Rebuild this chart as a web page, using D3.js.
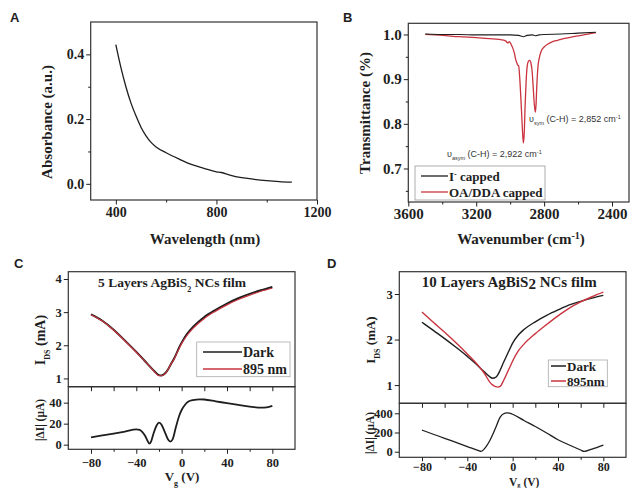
<!DOCTYPE html>
<html>
<head>
<meta charset="utf-8">
<script src="https://cdn.jsdelivr.net/npm/d3@7"></script>
<style>
  body { margin: 0; background: #fff; }
  svg { display: block; }
</style>
</head>
<body>
<svg id="fig" width="633" height="488"></svg>
<script>
// Panel A - absorbance
const absWavelength = [400, 420, 440, 460, 480, 500, 520, 540, 560, 600, 650, 700, 750, 800, 820, 850, 900, 950, 1000, 1050, 1100];
const absValue = [0.43, 0.36, 0.30, 0.25, 0.21, 0.175, 0.148, 0.128, 0.114, 0.096, 0.077, 0.060, 0.048, 0.037, 0.035, 0.028, 0.019, 0.014, 0.010, 0.007, 0.005];

// Panel B - FTIR transmittance
const irWaveOA = [3500, 3400, 3300, 3200, 3100, 3050, 3025, 3014, 3005, 2995, 2985, 2975, 2966, 2960, 2956, 2950, 2944, 2938, 2932, 2926, 2922, 2917, 2912, 2906, 2900, 2893, 2885, 2877, 2870, 2864, 2858, 2852, 2848, 2843, 2837, 2828, 2818, 2800, 2780, 2750, 2720, 2680, 2640, 2600, 2550, 2495];
const irOA = [1.0, 0.998, 0.995, 0.993, 0.990, 0.988, 0.985, 0.981, 0.984, 0.978, 0.970, 0.958, 0.942, 0.936, 0.932, 0.930, 0.905, 0.865, 0.82, 0.775, 0.757, 0.78, 0.84, 0.895, 0.928, 0.940, 0.942, 0.935, 0.915, 0.88, 0.845, 0.826, 0.84, 0.885, 0.925, 0.948, 0.962, 0.972, 0.978, 0.984, 0.987, 0.991, 0.994, 0.997, 1.0, 1.004];
const irWaveI = [3500, 3400, 3300, 3200, 3100, 3000, 2950, 2922, 2900, 2870, 2852, 2830, 2800, 2700, 2600, 2495];
const irI = [1.001, 1.0, 1.0, 0.999, 0.999, 0.999, 0.998, 0.995, 0.998, 0.999, 0.997, 0.999, 1.0, 1.001, 1.003, 1.005];

// Panel C - 5 layers
const vgC = [-80, -70, -60, -50, -40, -35, -30, -25, -22, -20, -18, -15, -12, -10, -7, -5, -2, 0, 5, 10, 20, 30, 40, 50, 60, 70, 80];
const idsDarkC = [2.93, 2.74, 2.47, 2.14, 1.80, 1.62, 1.43, 1.25, 1.15, 1.10, 1.09, 1.14, 1.27, 1.40, 1.58, 1.72, 1.95, 2.08, 2.35, 2.55, 2.85, 3.07, 3.26, 3.42, 3.55, 3.66, 3.76];
const idsLightC = [2.92, 2.73, 2.46, 2.13, 1.79, 1.61, 1.43, 1.24, 1.13, 1.08, 1.08, 1.13, 1.27, 1.40, 1.56, 1.70, 1.92, 2.05, 2.31, 2.51, 2.81, 3.03, 3.22, 3.38, 3.51, 3.63, 3.72];
const vgDeltaC = [-80, -70, -60, -50, -40, -37, -35, -32, -30, -28.5, -27, -25, -22, -20, -18, -15, -12, -10, -8, -5, -2, 0, 3, 6, 10, 16, 20, 30, 40, 50, 60, 70, 75, 80];
const deltaC = [7, 8.8, 10.6, 12.5, 14.5, 14, 12.5, 8, 3.5, 1, 3, 10, 18.5, 21, 19.5, 12.5, 5, 3, 5, 17, 28, 33, 38, 41, 42.5, 43.2, 43, 41.3, 39.5, 37.8, 36.2, 35.2, 35.5, 37];

// Panel D - 10 layers
const vgD = [-80, -70, -60, -50, -40, -30, -28, -25, -20, -18, -15, -13, -11, -8, -5, -2, 0, 5, 10, 20, 30, 40, 50, 60, 70, 80];
const idsDarkD = [2.38, 2.20, 2.02, 1.83, 1.63, 1.41, 1.36, 1.29, 1.18, 1.15, 1.17, 1.23, 1.33, 1.50, 1.66, 1.82, 1.92, 2.10, 2.22, 2.39, 2.53, 2.65, 2.76, 2.84, 2.91, 2.97];
const idsLightD = [2.605, 2.38, 2.16, 1.93, 1.685, 1.42, 1.36, 1.26, 1.06, 1.01, 0.965, 0.955, 0.97, 1.10, 1.26, 1.42, 1.53, 1.75, 1.90, 2.13, 2.33, 2.52, 2.69, 2.825, 2.94, 3.04];
const vgDeltaD = [-80, -70, -60, -50, -40, -30, -28, -25, -20, -15, -11, -8, -5, -2, 0, 10, 20, 30, 40, 50, 60, 63, 70, 80];
const deltaD = [225, 182, 140, 97, 54, 12, 3, 30, 120, 250, 360, 395, 405, 400, 390, 325, 262, 195, 125, 70, 18, 3, 28, 70];

const serif = "'Liberation Serif', 'Times New Roman', serif";
const sans = "'Liberation Sans', Arial, sans-serif";
const ink = "#1e1e1e";
const red = "#c9343f";

const svg = d3.select("#fig");

function frame(x0, y0, x1, y1) {
    svg.append("rect")
        .attr("x", x0).attr("y", y0)
        .attr("width", x1 - x0).attr("height", y1 - y0)
        .attr("fill", "none").attr("stroke", "#333").attr("stroke-width", 1.2);
}

function styleAxis(g, fs) {
    g.attr("font-family", serif).attr("font-size", fs).attr("font-weight", "bold")
        .attr("color", ink);
    g.select(".domain").remove();
}

function leftAxis(y, x0, major, minor, fmt, fs) {
    svg.append("g").attr("transform", `translate(${x0},0)`)
        .call(d3.axisLeft(y).tickValues(major).tickFormat(fmt).tickSize(4.5).tickPadding(2))
        .call(g => styleAxis(g, fs));
    if (minor) {
        svg.append("g").attr("transform", `translate(${x0},0)`)
            .call(d3.axisLeft(y).tickValues(minor).tickFormat("").tickSize(2.5))
            .call(g => styleAxis(g, fs));
    }
}

function bottomAxis(x, y0, major, minor, fmt, fs, pad, size = 4.5) {
    svg.append("g").attr("transform", `translate(0,${y0})`)
        .call(d3.axisBottom(x).tickValues(major).tickFormat(fmt).tickSize(size).tickPadding(pad))
        .call(g => styleAxis(g, fs));
    if (minor) {
        svg.append("g").attr("transform", `translate(0,${y0})`)
            .call(d3.axisBottom(x).tickValues(minor).tickFormat("").tickSize(2.5))
            .call(g => styleAxis(g, fs));
    }
}

function curve(xs, ys, x, y, color, w) {
    const pts = xs.map((d, i) => [d, ys[i]]);
    svg.append("path")
        .datum(pts)
        .attr("fill", "none")
        .attr("stroke", color)
        .attr("stroke-width", w)
        .attr("stroke-linejoin", "round")
        .attr("d", d3.line().x(d => x(d[0])).y(d => y(d[1])).curve(d3.curveMonotoneX));
}

function label(txt, x, y, fs, opts = {}) {
    const t = svg.append("text")
        .attr("x", x).attr("y", y)
        .attr("font-family", opts.family || serif)
        .attr("font-size", fs)
        .attr("font-weight", opts.weight || "bold")
        .attr("fill", opts.fill || ink)
        .attr("text-anchor", opts.anchor || "middle");
    if (opts.rotate) t.attr("transform", `rotate(-90,${x},${y})`);
    if (txt) t.text(txt);
    return t;
}

function sub(t, s, size) {
    t.append("tspan").attr("baseline-shift", "sub").attr("font-size", size).text(s);
}

// ---------- Panel A ----------
const xA = d3.scaleLinear().domain([300, 1200]).range([90.7, 317]);
const yA = d3.scaleLinear().domain([-0.05, 0.5]).range([200, 22]);
frame(90.7, 22, 317, 200);
leftAxis(yA, 90.7, [0, 0.2, 0.4], [0.1, 0.3], d3.format(".1f"), 14);
bottomAxis(xA, 200, [400, 800, 1200], [600, 1000], d3.format("d"), 14, 3);
curve(absWavelength, absValue, xA, yA, ink, 1.3);
label("A", 10, 22, 13, { family: sans, anchor: "start" });
label("Absorbance (a.u.)", 52, 122, 15, { rotate: true });
label("Wavelength (nm)", 205, 244, 15);

// ---------- Panel B ----------
const xB = d3.scaleLinear().domain([3600, 2300]).range([408.3, 629]);
const yB = d3.scaleLinear().domain([0.625, 1.025]).range([202, 23.3]);
frame(408.3, 23.3, 629, 202);
leftAxis(yB, 408.3, [0.7, 0.8, 0.9, 1.0], [0.65, 0.75, 0.85, 0.95], d3.format(".1f"), 15);
bottomAxis(xB, 202, [3600, 3200, 2800, 2400], [3400, 3000, 2600], d3.format("d"), 15, 2);
curve(irWaveOA, irOA, xB, yB, red, 1.3);
curve(irWaveI, irI, xB, yB, ink, 1.1);
label("B", 343, 22, 13, { family: sans, anchor: "start" });
label("Transmittance (%)", 370, 113, 15, { rotate: true });
const wn = label("Wavenumber (cm", 521, 244, 15);
wn.append("tspan").attr("baseline-shift", "super").attr("font-size", 10).text("-1");
wn.append("tspan").text(")");

function vibLabel(x, y, mode, value) {
    const t = label(null, x, y, 9, { family: sans, weight: "normal", anchor: "start", fill: "#333" });
    t.append("tspan").text("\u03c5");
    t.append("tspan").attr("baseline-shift", "sub").attr("font-size", 5.5).text(mode);
    t.append("tspan").text(` (C-H) = ${value} cm`);
    t.append("tspan").attr("baseline-shift", "super").attr("font-size", 5.5).text("-1");
}
vibLabel(529, 122, "sym", "2,852");
vibLabel(447, 157, "asym", "2,922");

// legend B
svg.append("rect").attr("x", 415).attr("y", 166).attr("width", 130).attr("height", 34)
    .attr("fill", "#fff").attr("stroke", "#999").attr("stroke-width", 0.8);
[[ink, 176], [red, 192]].forEach(([c, yy]) => {
    svg.append("line").attr("x1", 421).attr("x2", 448).attr("y1", yy).attr("y2", yy)
        .attr("stroke", c).attr("stroke-width", 1.3);
});
const lgI = label("I", 449, 180.5, 13, { anchor: "start" });
lgI.append("tspan").attr("baseline-shift", "super").attr("font-size", 8).text("-");
lgI.append("tspan").text(" capped");
label("OA/DDA capped", 449, 196.5, 13, { anchor: "start" });

// ---------- Panel C ----------
const xC = d3.scaleLinear().domain([-100, 100]).range([68.3, 295]);
const yCt = d3.scaleLinear().domain([0.75, 4.22]).range([386.7, 271.7]);
const yCb = d3.scaleLinear().domain([-4.4, 55.2]).range([449.3, 386.7]);
frame(68.3, 271.7, 295, 386.7);
frame(68.3, 386.7, 295, 449.3);
leftAxis(yCt, 68.3, [1, 2, 3, 4], null, d3.format("d"), 12.5);
leftAxis(yCb, 68.3, [0, 20, 40], null, d3.format("d"), 12.5);
bottomAxis(xC, 386.7, d3.range(-80, 81, 20), null, "", 12, 2);
bottomAxis(xC, 449.3, [-80, -40, 0, 40, 80], [-60, -20, 20, 60], d3.format("d"), 12.5, 4);
curve(vgC, idsDarkC, xC, yCt, ink, 2);
curve(vgC, idsLightC, xC, yCt, red, 1.2);
curve(vgDeltaC, deltaC, xC, yCb, ink, 1.8);
label("C", 14, 268, 13, { family: sans, anchor: "start" });
const tC = label("5 Layers AgBiS", 98, 287, 13.5, { anchor: "start" });
sub(tC, "2", 8);
tC.append("tspan").text(" NCs film");
const iC = label("I", 45, 340, 14, { rotate: true });
sub(iC, "DS", 8);
iC.append("tspan").text(" (mA)");
label("|\u0394I| (\u03bcA)", 44, 420, 11.5, { rotate: true });
const vC = label("V", 182, 481, 13);
sub(vC, "g", 8);
vC.append("tspan").text(" (V)");

// legend C
svg.append("rect").attr("x", 196.7).attr("y", 342).attr("width", 93.3).attr("height", 34.7)
    .attr("fill", "#fff").attr("stroke", "#aaa").attr("stroke-width", 0.8);
[[ink, 352], [red, 369]].forEach(([c, yy]) => {
    svg.append("line").attr("x1", 203).attr("x2", 242).attr("y1", yy).attr("y2", yy)
        .attr("stroke", c).attr("stroke-width", 1.5);
});
label("Dark", 243, 357, 14, { anchor: "start" });
label("895 nm", 243, 374, 14, { anchor: "start" });

// ---------- Panel D ----------
const xD = d3.scaleLinear().domain([-100, 100]).range([399.3, 626]);
const yDt = d3.scaleLinear().domain([0.6, 3.49]).range([403.3, 271.7]);
const yDb = d3.scaleLinear().domain([-58, 504]).range([457.3, 403.3]);
frame(399.3, 271.7, 626, 403.3);
frame(399.3, 403.3, 626, 457.3);
leftAxis(yDt, 399.3, [1, 2, 3], null, d3.format("d"), 12.5);
leftAxis(yDb, 399.3, [0, 200, 400], null, d3.format("d"), 12.5);
bottomAxis(xD, 403.3, d3.range(-80, 81, 20), null, "", 12, 2);
bottomAxis(xD, 457.3, [-80, -40, 0, 40, 80], [-60, -20, 20, 60], d3.format("d"), 12, 1, 4);
curve(vgD, idsDarkD, xD, yDt, ink, 1.4);
curve(vgD, idsLightD, xD, yDt, red, 1.4);
curve(vgDeltaD, deltaD, xD, yDb, ink, 1.3);
label("D", 327, 268, 13, { family: sans, anchor: "start" });
const tD = label("10 Layers AgBiS", 421.7, 287, 15, { anchor: "start" });
tD.append("tspan").attr("dy", 2).text("2");
tD.append("tspan").attr("dy", -2).text(" NCs film");
const vD = label("V", 509, 485.5, 11.5, { anchor: "start" });
vD.append("tspan").attr("dy", 1.2).attr("font-size", 6.5).text("g");
vD.append("tspan").attr("dy", -1.2).text(" (V)");
const iD = label("I", 375, 340, 13, { rotate: true });
sub(iD, "DS", 8);
iD.append("tspan").text(" (mA)");
label("|\u0394I| (\u03bcA)", 374, 433, 11.5, { rotate: true });

// legend D
svg.append("rect").attr("x", 548.3).attr("y", 360).attr("width", 59).attr("height", 26.7)
    .attr("fill", "#fff").attr("stroke", "#aaa").attr("stroke-width", 0.8);
[[ink, 366], [red, 381]].forEach(([c, yy]) => {
    svg.append("line").attr("x1", 551).attr("x2", 566).attr("y1", yy).attr("y2", yy)
        .attr("stroke", c).attr("stroke-width", 1.5);
});
label("Dark", 567, 370.5, 13, { anchor: "start" });
label("895nm", 567, 385.5, 13, { anchor: "start" });
</script>
</body>
</html>
